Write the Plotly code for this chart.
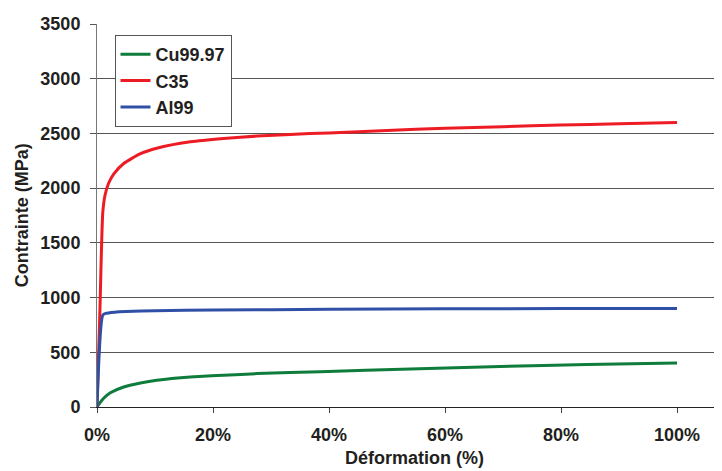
import plotly.graph_objects as go

# Data (strain in %, stress in MPa)
cu_x = [0, 0.5, 1.15, 2.3, 4.6, 7.5, 10.3, 16.1, 21.8, 27.6, 38.5, 54, 69.5, 84.5, 100]
cu_y = [0, 38, 80, 130, 183, 219, 244, 274, 290, 305, 323, 347, 370, 388, 402]

c35_x = [0, 0.5, 1.0, 1.4, 2.0, 2.9, 4.6, 7.5, 10.3, 16.1, 21.8, 27.6, 33.3, 40, 50, 60, 70, 80, 90, 100]
c35_y = [0, 880, 1780, 1940, 2045, 2130, 2225, 2315, 2365, 2423, 2454, 2476, 2491, 2505, 2527, 2547, 2562, 2576, 2589, 2601]

al_x = [0, 1.0, 1.5, 3, 5, 10, 20, 40, 60, 80, 100]
al_y = [0, 840, 855, 866, 873, 880, 886, 893, 897, 899, 900]

series_names = ["Cu99.97", "C35", "Al99"]
x_ticks = [0, 20, 40, 60, 80, 100]
x_tick_labels = ["0%", "20%", "40%", "60%", "80%", "100%"]
y_ticks = [0, 500, 1000, 1500, 2000, 2500, 3000, 3500]

colors = ["#0E7C3A", "#ED1C24", "#3050A8"]
FONT = "Liberation Sans, Arial, sans-serif"
TXT = "#231F20"

fig = go.Figure()
for i, (xs, ys) in enumerate([(cu_x, cu_y), (c35_x, c35_y), (al_x, al_y)]):
    fig.add_trace(go.Scatter(
        x=xs, y=ys, mode="lines", name=series_names[i],
        line=dict(color=colors[i], width=3, shape="spline", smoothing=0.6),
        legendgroup=series_names[i],
    ))

# page body has an 8px margin: figure sized to fill the 722x471 window exactly
W, H = 714, 463
ML, MT, MB = 89, 16, 64
PW, PH = W - ML, H - MT - MB

fig.update_layout(
    width=W, height=H,
    margin=dict(l=ML, r=0, t=MT, b=MB, pad=0),
    paper_bgcolor="white", plot_bgcolor="white",
    font=dict(family=FONT, size=18, color=TXT, weight="bold"),
    showlegend=True,
    legend=dict(
        x=(114.5 - 97) / PW, y=1 - (35 - 24) / PH, xanchor="left", yanchor="top",
        bordercolor="#555555", borderwidth=1, bgcolor="white",
        font=dict(family=FONT, size=18, color=TXT, weight="bold"),
        traceorder="grouped", tracegroupgap=0,
    ),
    xaxis=dict(
        range=[0, PW / 580 * 100], tickmode="array", tickvals=x_ticks, ticktext=x_tick_labels,
        showgrid=False, zeroline=False, automargin=False,
        showline=True, linecolor="#222222", linewidth=1,
        ticks="outside", ticklen=5, tickcolor="#444444",
        tickfont=dict(family=FONT, size=18, color=TXT, weight="bold"),
        ticklabelstandoff=6,
    ),
    yaxis=dict(
        range=[0, 3500], tickmode="array", tickvals=y_ticks,
        showgrid=True, gridcolor="#555555", gridwidth=1,
        zeroline=False, automargin=False,
        showline=True, linecolor="#777777", linewidth=1,
        ticks="outside", ticklen=6, tickcolor="#555555",
        tickfont=dict(family=FONT, size=18, color=TXT, weight="bold"),
        ticklabelstandoff=6,
    ),
    annotations=[
        dict(text="Déformation (%)", xref="paper", yref="paper",
             x=(414.7 - 97) / PW, y=-(458 - 407) / PH,
             xanchor="center", yanchor="middle", showarrow=False,
             font=dict(family=FONT, size=18, color=TXT, weight="bold")),
        dict(text="Contrainte (MPa)", xref="paper", yref="paper",
             x=-(97 - 21.7) / PW, y=0.5, textangle=-90,
             xanchor="center", yanchor="middle", showarrow=False,
             font=dict(family=FONT, size=18, color=TXT, weight="bold")),
    ],
)

fig.write_html("out.html")
